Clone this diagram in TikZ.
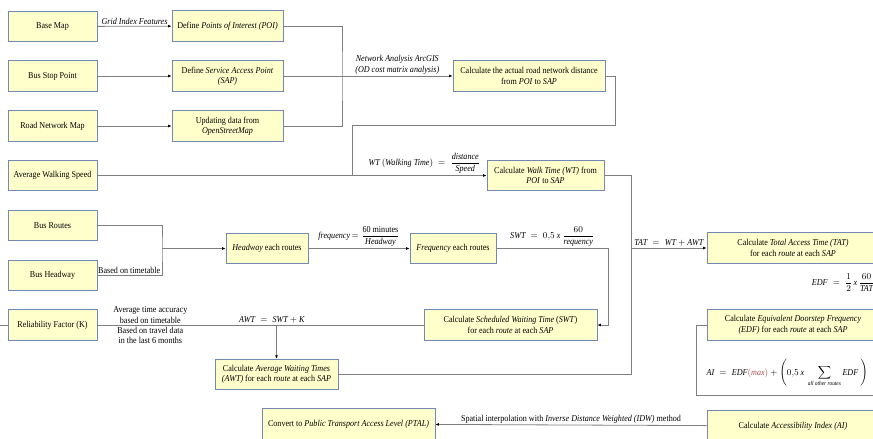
\documentclass[tikz,border=0pt]{standalone}
\usepackage{fontspec}
\setmainfont[FakeStretch=0.9]{Liberation Serif}
\usepackage{amsmath}
\usetikzlibrary{arrows.meta}
\definecolor{boxfill}{HTML}{FFFFCC}
\definecolor{boxline}{HTML}{7189B5}
\definecolor{wire}{HTML}{7F7F7F}
\definecolor{maxred}{HTML}{A0524D}
\newcommand{\mi}[1]{\textit{#1}}

\begin{document}
\begin{tikzpicture}[x=1pt,y=-1pt,
  font=\fontsize{9}{10.4}\selectfont,
  box/.style={draw=boxline,line width=0.9pt,fill=boxfill,align=center,
    minimum height=30.5pt,inner sep=1pt},
  wire/.style={draw=wire,line width=0.8pt},
  arr/.style={wire,-{Latex[length=3.5pt,width=3pt,color=black]}},
  lbl/.style={align=center,inner sep=1.5pt}]

  % fix the page to the reference size
  \useasboundingbox (0,0) rectangle (873,439);

  % input data boxes (left column)
  \node[box,minimum width=89pt] (basemap) at (52.5,26.5) {Base Map};
  \node[box,minimum width=89pt] (busstop) at (52.5,76) {Bus Stop Point};
  \node[box,minimum width=89pt] (roadnet) at (52.5,126) {Road Network Map};
  \node[box,minimum width=89pt] (walkspeed) at (52.5,175.5) {Average Walking Speed};
  \node[box,minimum width=89pt] (routes) at (52.5,225.5) {Bus Routes};
  \node[box,minimum width=89pt] (headway) at (52.5,275.5) {Bus Headway};
  \node[box,minimum width=89pt] (reliab) at (52.5,325) {Reliability Factor (K)};

  % processing boxes
  \node[box,minimum width=111pt] (poi) at (227.5,26) {Define \textit{Points of Interest (POI)}};
  \node[box,minimum width=111pt] (sap) at (227.5,76) {Define \textit{Service Access Point}\\\textit{(SAP)}};
  \node[box,minimum width=111pt] (osm) at (227.5,126) {Updating data from\\\textit{OpenStreetMap}};
  \node[box,minimum width=152pt] (dist) at (529,76) {Calculate the actual road network distance\\from \textit{POI} to \textit{SAP}};
  \node[box,minimum width=117pt] (walktime) at (545.5,175.5) {Calculate \textit{Walk Time (WT)} from\\\textit{POI} to \textit{SAP}};
  \node[box,minimum width=82pt] (hwroute) at (267,248.5) {\textit{Headway} each routes};
  \node[box,minimum width=86pt] (freq) at (453,248.5) {\textit{Frequency} each routes};
  \node[box,minimum width=173pt] (swt) at (510.5,325) {Calculate \textit{Scheduled Waiting Time} (\textit{SWT})\\for each \textit{route} at each \textit{SAP}};
  \node[box,minimum width=123pt] (awt) at (276.5,374.5) {Calculate \textit{Average Waiting Times}\\\textit{(AWT)} for each \textit{route} at each \textit{SAP}};
  \node[box,minimum width=173pt] (ptal) at (348.5,424) {Convert to \textit{Public Transport Access Level (PTAL)}};

  % result boxes (right column, cut by the page edge)
  \node[box,minimum width=172pt] (tat) at (793,248) {Calculate \textit{Total Access Time (TAT)}\\for each \textit{route} at each \textit{SAP}};
  \node[box,minimum width=172pt] (edf) at (793,325) {Calculate \textit{Equivalent Doorstep Frequency}\\\textit{(EDF)} for each \textit{route}\ at each \textit{SAP}};
  \node[box,minimum width=172pt] (ai) at (793,426) {Calculate \textit{Accessibility Index (AI)}};

  % junction points
  \coordinate (jn) at (342,76);
  \coordinate (wtj) at (352,175.5);
  \coordinate (tatj) at (631,248);
  \coordinate (bj) at (162,248.5);

  % spatial data
  \draw[arr] (basemap) -- (poi) node[lbl,midway,above] (gridlbl) {\textit{Grid Index Features}};
  \draw[arr] (busstop) -- (sap);
  \draw[arr] (roadnet) -- (osm);
  \draw[wire] (poi.east) -| (jn) |- (osm.east);
  \draw[wire] (sap.east) -- (jn);
  \draw[arr] (jn) -- (dist) node[lbl,midway,above] (odlbl) {\textit{Network Analysis ArcGIS}\\\textit{(OD cost matrix analysis)}};
  \draw[wire] (dist.east) -| (615,125) -| (wtj);

  % walking time
  \draw[arr] (walkspeed) -- (walktime) node[lbl,pos=0.84,above] (wtlbl)
    {$\mi{WT}\ (\mi{Walking Time}) \;=\; \dfrac{\mi{distance}}{\mi{Speed}}$};

  % bus frequency
  \draw[wire] (routes.east) -| (bj) |- (headway.east);
  \node[lbl,anchor=south east] (ttlbl) at (headway.east -| bj) {Based on timetable};
  \draw[arr] (bj) -- (hwroute);
  \draw[arr] (hwroute) -- (freq) node[lbl,midway,above] (freqlbl)
    {\textit{frequency}\,$=\dfrac{\text{60 minutes}}{\mi{Headway}}$};
  \draw[arr] (freq.east) -| node[lbl,pos=0.25,above] (swtlbl)
    {$\mi{SWT} \;=\; 0{,}5\ \mi{x}\ \dfrac{60}{\mi{requency}}$} (608,325) -- (swt.east);

  % waiting time
  \draw[wire] (0,325) -- (reliab.west);
  \draw[wire] (reliab) -- (swt)
    node[lbl,pos=0.162,above] (acclbl) {Average time accuracy\\based on timetable}
    node[lbl,pos=0.162,below] (travlbl) {Based on travel data\\in the last 6 months}
    node[lbl,pos=0.535,above] (awtlbl) {$\mi{AWT} \;=\; \mi{SWT} + \mi{K}$};
  \draw[arr] (awt |- reliab) -- (awt);

  % total access time
  \draw[wire] (walktime.east) -| (tatj);
  \draw[wire] (awt.east) -| (tatj);
  \draw[arr] (tatj) -- (tat) node[lbl,midway,above] (tatlbl) {$\mi{TAT} \;=\; \mi{WT} + \mi{AWT}$};

  % doorstep frequency and accessibility index
  \node[lbl,anchor=east] (edflbl) at (876,282.5) {$\mi{EDF} \;=\; \dfrac{1}{2}\,\mi{x}\,\dfrac{60}{\mi{TAT}}$};
  \draw[wire] (edf.west) -- ++(-10,0) |- (890,395);
  \node[lbl,anchor=west] (ailbl) at (705,373) {$\mi{AI} \;=\; \mi{EDF}\textcolor{maxred}{(\mi{max})} + \left(0{,}5\ \mi{x}\ \displaystyle\sum_{\mi{all other routes}} \mi{EDF}\ \right)$};
  \draw[arr] (ai) -- (ptal) node[lbl,midway,above] (idwlbl)
    {Spatial interpolation with \textit{Inverse Distance Weighted (IDW)} method};

\end{tikzpicture}
\end{document}
